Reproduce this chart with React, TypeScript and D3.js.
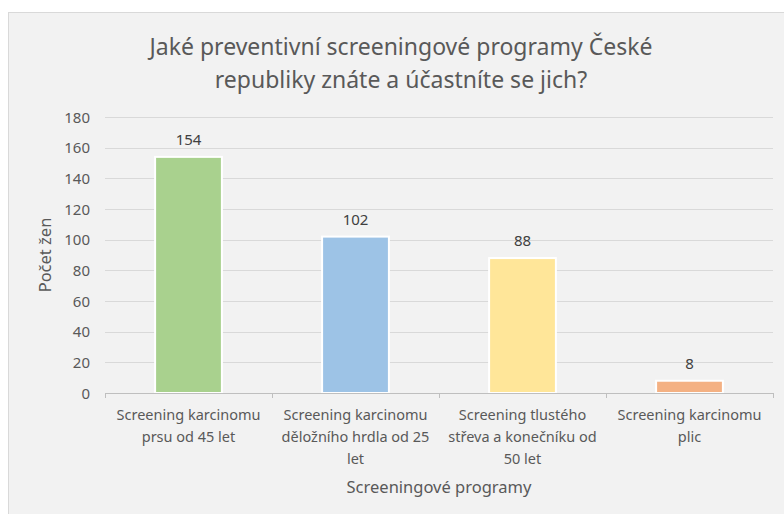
import React from "react";
import * as d3 from "d3";

const categories = [
  ["Screening karcinomu", "prsu od 45 let"],
  ["Screening karcinomu", "děložního hrdla od 25", "let"],
  ["Screening tlustého", "střeva a konečníku od", "50 let"],
  ["Screening karcinomu", "plic"],
];
const values = [154, 102, 88, 8];
const colors = ["#a9d18e", "#9dc3e6", "#ffe699", "#f4b183"];
const yTicks = [0, 20, 40, 60, 80, 100, 120, 140, 160, 180];
const titleLines = ["Jaké preventivní screeningové programy České", "republiky znáte a účastníte se jich?"];
const yTitle = "Počet žen";
const xTitle = "Screeningové programy";

const W = 784;
const H = 514;
const FONT = "Noto Sans, sans-serif";

export default function App() {
  const left = 105, right = 773, top = 117, bottom = 393;
  const x = d3.scaleBand<number>().domain(d3.range(values.length)).range([left, right]).paddingInner(0.6).paddingOuter(0.3);
  const xb = d3.scaleBand<number>().domain(d3.range(values.length)).range([left, right]);
  const y = d3.scaleLinear().domain([0, 180]).range([bottom, top]);
  return (
    <svg width={W} height={H} style={{ position: "absolute", left: 0, top: 0 }} fontFamily={FONT}>
      <rect x={0} y={0} width={W} height={H} fill="#ffffff" />
      <rect x={8.5} y={12.5} width={W} height={H} fill="#f2f2f2" stroke="#d9d9d9" strokeWidth={1} />
      {titleLines.map((t, i) => (
        <text key={i} x={401} y={55 + i * 33} textAnchor="middle" fontSize={23} fill="#595959">{t}</text>
      ))}
      {yTicks.map((t) => (
        <g key={t}>
          {t > 0 && <line x1={left} x2={right} y1={Math.round(y(t)) + 0.5} y2={Math.round(y(t)) + 0.5} stroke="#d9d9d9" />}
          <text x={90} y={y(t) + 5.5} textAnchor="end" fontSize={15} fill="#595959">{t}</text>
        </g>
      ))}
      {values.map((v, i) => (
        <g key={i}>
          <rect x={x(i)} y={y(v)} width={x.bandwidth()} height={bottom - y(v)} fill={colors[i]} stroke="#ffffff" strokeWidth={2} />
          <text x={x(i)! + x.bandwidth() / 2} y={y(v) - 12} textAnchor="middle" fontSize={15} fill="#404040">{v}</text>
        </g>
      ))}
      <line x1={left} x2={right} y1={bottom + 0.5} y2={bottom + 0.5} stroke="#bfbfbf" />
      {d3.range(values.length + 1).map((i) => {
        const px = Math.round(i < values.length ? xb(i)! : right) + 0.5;
        return <line key={i} x1={px} x2={px} y1={bottom} y2={bottom + 5} stroke="#bfbfbf" />;
      })}
      {categories.map((lines, i) => (
        <text key={i} textAnchor="middle" fontSize={14.5} fill="#595959">
          {lines.map((l, j) => (
            <tspan key={j} x={xb(i)! + xb.bandwidth() / 2} y={420 + j * 22}>{l}</tspan>
          ))}
        </text>
      ))}
      <text transform={`translate(51,${(top + bottom) / 2}) rotate(-90)`} textAnchor="middle" fontSize={16.5} fill="#595959">{yTitle}</text>
      <text x={439} y={493} textAnchor="middle" fontSize={16.5} fill="#595959">{xTitle}</text>
    </svg>
  );
}
